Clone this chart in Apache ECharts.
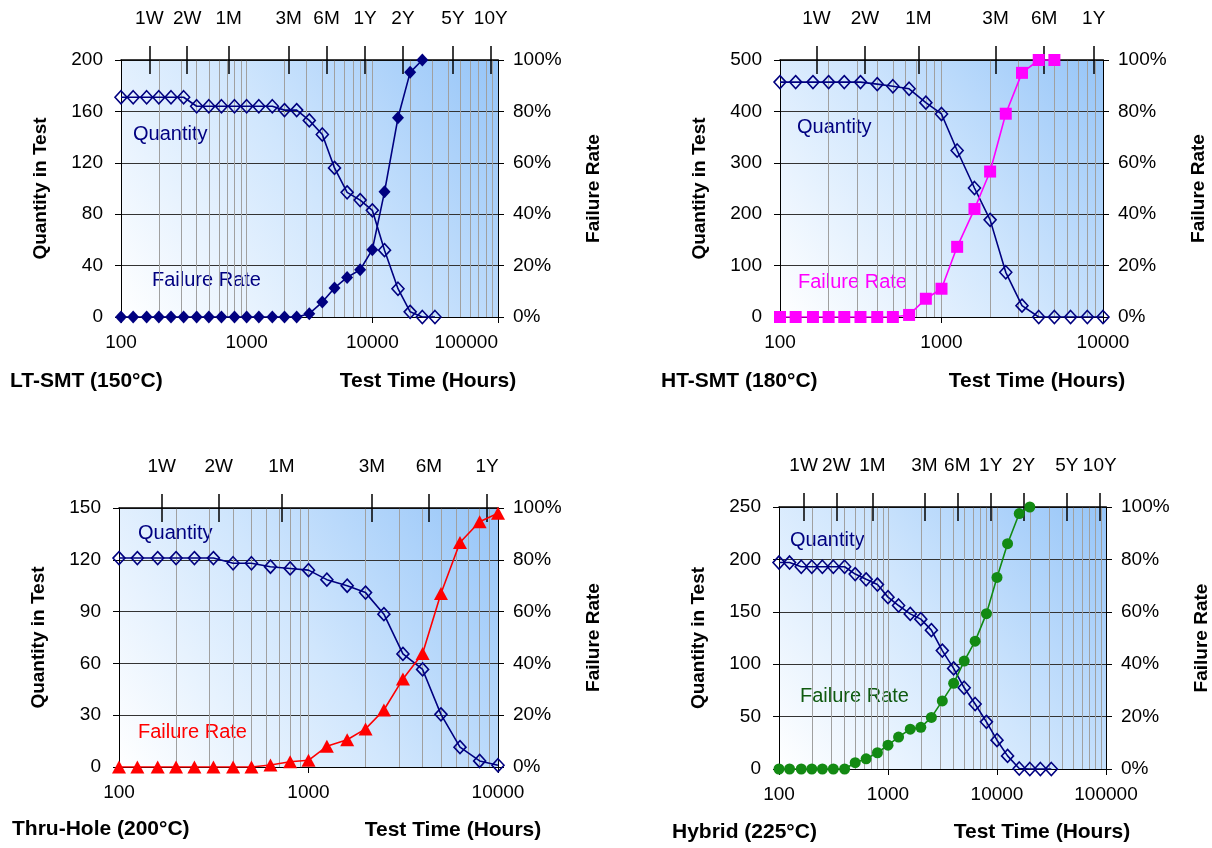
<!DOCTYPE html>
<html><head><meta charset="utf-8">
<script src="https://cdn.jsdelivr.net/npm/echarts@6/dist/echarts.min.js"></script>
<style>html,body{margin:0;padding:0;background:#fff}#c{width:1212px;height:848px}</style>
</head><body><div id="c"></div>
<script>
// ---- data ----
const hours = [100,125,160,200,250,315,400,500,630,800,1000,1250,1600,2000,2500,3150,4000,5000,6300,8000,10000,12500,16000,20000,25000,31500];
const topHours = [168,336,720,2160,4320,8760,17520,43800,87600];
const topLabels = ['1W','2W','1M','3M','6M','1Y','2Y','5Y','10Y'];

const ltQty  = [171,171,171,171,171,171,164,164,164,164,164,164,164,161,161,153,142,116,97,91,83,52,22,4,0,0];
const ltFail = [0,0,0,0,0,0,0,0,0,0,0,0,0,0,0,1.3,5.8,11.3,15.4,18.4,26.2,48.7,77.5,95.2,100];

const htQty  = [457,457,457,457,457,457,453,449,444,417,395,324,251,189,87,22,0,0,0,0,0];
const htFail = [0,0,0,0,0,0,0,0,0.8,7.1,11,27.3,42,56.6,79.1,95,100,100];

const thQty  = [121,121,121,121,121,121,118,118,116,115,114,108.5,105,101,88.5,65.5,56.5,30.5,11.5,3.5,1];
const thFail = [0,0,0,0,0,0,0,0,0.8,2,2.6,8,10.5,14.7,22,34,43.8,67,86.7,94.7,98];

const hyQty  = [197,197,193,193,193,193,193,186,181,176,164,156,148,143,132.5,113,96,77.5,62,45,27.5,12.5,0.5,0,0,0];
const hyFail = [0,0,0,0,0,0,0,2.4,3.9,6.2,9.1,12.2,15.2,15.9,19.7,26,32.7,41.2,48.8,59.3,73.1,86,97.5,100];

const panelTitles = ['LT-SMT (150°C)','HT-SMT (180°C)','Thru-Hole (200°C)','Hybrid (225°C)'];
const xMaxes = [100000,10000,10000,100000];
const yMaxes = [200,500,150,250];
const yIntervals = [40,100,30,50];
const qtyData = [ltQty, htQty, thQty, hyQty];
const failData = [ltFail, htFail, thFail, hyFail];

// ---- layout / style ----
const FONT = '"Liberation Sans", Arial, sans-serif';
const layout = [
  {grid:{left:121,top:60,width:377,height:257}, color:'#000080', labelColor:'#000080', symbol:'diamond', size:[12,13],
   q:[133,134], f:[152,280], t:[10,381], tt:[428,381], alignMax:'right'},
  {grid:{left:780,top:60,width:323,height:257}, color:'#ff00ff', labelColor:'#ff00ff', symbol:'rect', size:[12,12],
   q:[797,127], f:[798,282], t:[661,381], tt:[1037,381], alignMax:'center'},
  {grid:{left:119,top:508,width:379,height:259}, color:'#ff0000', labelColor:'#ff0000', symbol:'triangle', size:[14,13],
   q:[138,533], f:[138,732], t:[12,829], tt:[453,830], alignMax:'center'},
  {grid:{left:779,top:507,width:327,height:262}, color:'#138a13', labelColor:'#0f5a0f', symbol:'circle', size:[11,11],
   q:[790,540], f:[800,696], t:[672,832], tt:[1042,832], alignMax:'center'}
];

const grids = [], xAxes = [], yAxes = [], series = [], graphics = [];
layout.forEach((L, i) => {
  const xMax = xMaxes[i];
  grids.push(Object.assign({show:true, borderWidth:0,
    backgroundColor:{type:'linear', x:0, y:1, x2:1, y2:0,
      colorStops:[{offset:0,color:'#ffffff'},{offset:0.5,color:'#d0e6fd'},{offset:1,color:'#96c5f8'}]}}, L.grid));
  const gridHours = [];
  for (let d = 100; d < xMax; d *= 10) for (let k = 1; k <= 9; k++) gridHours.push(d * k);
  gridHours.push(xMax);
  const tops = topHours.filter(h => h <= xMax);
  const base = {type:'log', logBase:10, gridIndex:i, min:100, max:xMax};
  // main bottom axis (labels + vertical grid lines)
  xAxes.push(Object.assign({}, base, {position:'bottom',
    axisLine:{show:true, onZero:false, lineStyle:{color:'#000', width:1}},
    axisTick:{show:false, customValues:gridHours},
    axisLabel:{show:true, color:'#000', fontSize:19, fontFamily:FONT, margin:16, alignMaxLabel:L.alignMax,
      formatter:v => String(Math.round(v))},
    splitLine:{show:true, lineStyle:{color:'#a0a0a0', width:1}}}));
  // decade ticks
  xAxes.push(Object.assign({}, base, {position:'bottom',
    axisLine:{show:false, onZero:false}, axisTick:{show:true, length:6, lineStyle:{color:'#000'}},
    axisLabel:{show:false}, splitLine:{show:false}}));
  // top time axis (outer half of crosses + labels)
  xAxes.push(Object.assign({}, base, {position:'top',
    axisLine:{show:true, onZero:false, lineStyle:{color:'#000', width:1.5}},
    axisTick:{show:true, length:14, customValues:tops, lineStyle:{color:'#000', width:1.5}},
    axisLabel:{show:true, customValues:tops, color:'#000', fontSize:19, fontFamily:FONT, margin:32,
      formatter:v => { const k = topHours.findIndex(h => Math.abs(h - v) / h < 1e-6); return k >= 0 ? topLabels[k] : ''; }},
    splitLine:{show:false}}));
  // top inner half of crosses
  xAxes.push(Object.assign({}, base, {position:'top',
    axisLine:{show:false, onZero:false},
    axisTick:{show:true, inside:true, length:14, customValues:tops, lineStyle:{color:'#000', width:1.5}},
    axisLabel:{show:false}, splitLine:{show:false}}));

  yAxes.push({type:'value', gridIndex:i, position:'left', min:0, max:yMaxes[i], interval:yIntervals[i],
    axisLine:{show:true, onZero:false, lineStyle:{color:'#000'}},
    axisTick:{show:true, length:6, lineStyle:{color:'#000'}},
    axisLabel:{color:'#000', fontSize:19, fontFamily:FONT, margin:18},
    splitLine:{show:true, lineStyle:{color:'#333333', width:1}},
    name:'Quantity in Test', nameLocation:'middle', nameGap:71, nameRotate:90,
    nameTextStyle:{color:'#000', fontSize:19, fontWeight:'bold', fontFamily:FONT}});
  yAxes.push({type:'value', gridIndex:i, position:'right', min:0, max:100, interval:20,
    axisLine:{show:true, onZero:false, lineStyle:{color:'#000'}},
    axisTick:{show:true, length:6, lineStyle:{color:'#000'}},
    axisLabel:{color:'#000', fontSize:19, fontFamily:FONT, margin:15, formatter:'{value}%'},
    splitLine:{show:false},
    name:'Failure Rate', nameLocation:'middle', nameGap:86, nameRotate:90,
    nameTextStyle:{color:'#000', fontSize:19, fontWeight:'bold', fontFamily:FONT}});

  const q = qtyData[i], f = failData[i];
  series.push({name:'Quantity', type:'line', xAxisIndex:4*i, yAxisIndex:2*i,
    data:q.map((v, j) => [hours[j], v]), symbol:'diamond', symbolSize:[12,13],
    itemStyle:{color:'rgba(255,255,255,0)', borderColor:'#000080', borderWidth:1.6},
    lineStyle:{color:'#000080', width:1.6}, z:3});
  series.push({name:'Failure Rate', type:'line', xAxisIndex:4*i, yAxisIndex:2*i+1,
    data:f.map((v, j) => [hours[j], v]), symbol:L.symbol, symbolSize:L.size,
    itemStyle:{color:L.color}, lineStyle:{color:L.color, width:1.6}, z:4});

  const txt = (x, y, text, fill, size, weight, align) => ({type:'text', x, y, silent:true,
    style:{text, fill, fontSize:size, fontWeight:weight, fontFamily:FONT, align, verticalAlign:'middle'}});
  graphics.push(txt(L.q[0], L.q[1], 'Quantity', '#000080', 20, 'normal', 'left'));
  graphics.push(txt(L.f[0], L.f[1], 'Failure Rate', L.labelColor, 20, 'normal', 'left'));
  graphics.push(txt(L.t[0], L.t[1], panelTitles[i], '#000', 21, 'bold', 'left'));
  graphics.push(txt(L.tt[0], L.tt[1], 'Test Time (Hours)', '#000', 21, 'bold', 'center'));
});

const chart = echarts.init(document.getElementById('c'), null, {renderer:'canvas'});
chart.setOption({
  animation:false,
  backgroundColor:'#ffffff',
  textStyle:{fontFamily:FONT},
  grid:grids, xAxis:xAxes, yAxis:yAxes, series, graphic:graphics
});
</script></body></html>
